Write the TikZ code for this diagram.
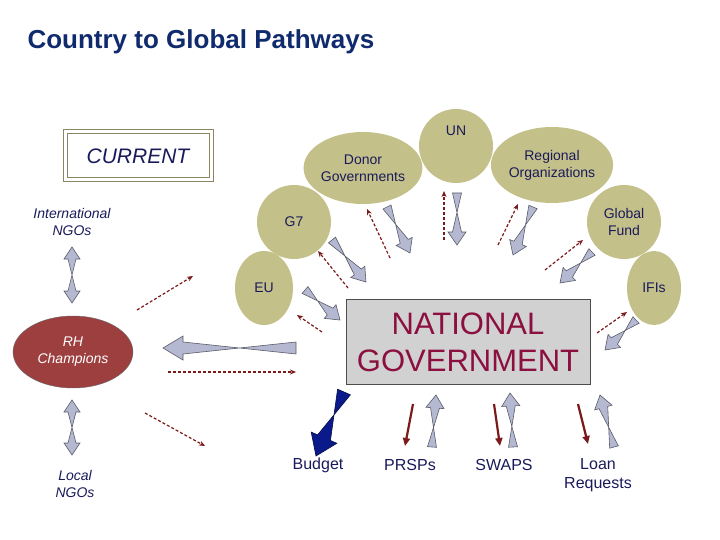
\documentclass[tikz,border=0pt]{standalone}
\usepackage{fontspec}
\setmainfont{Liberation Sans}
\usetikzlibrary{calc,arrows.meta,shapes.geometric}
\definecolor{olive}{HTML}{C4C08A}
\definecolor{txtblue}{HTML}{1A1A5A}
\definecolor{ttl}{HTML}{102A6E}
\definecolor{dred}{HTML}{7A1A1A}
\definecolor{ngtxt}{HTML}{8B1040}
\definecolor{ngfill}{HTML}{9E3F3F}
\definecolor{afill}{HTML}{B4B8D0}
\definecolor{navyA}{HTML}{0A1A8A}
\newcommand\fatarr[5]{% from, to, half width, head length, fill
 \filldraw[draw=#5!50!black,fill=#5,line width=0.6pt] let \p1=($(#2)!#4pt!(#1)$) in
 ($(#1)!#3pt!90:(#2)$) -- ($(\p1)!#3pt!-90:(#2)$) -- ($(\p1)!2*#3pt!-90:(#2)$) -- (#2)
 -- ($(\p1)!2*#3pt!90:(#2)$) -- ($(\p1)!#3pt!90:(#2)$) -- ($(#1)!#3pt!-90:(#2)$) -- cycle;}
\newcommand\fatdbl[4]{% double-headed
 \filldraw[draw=afill!50!black,fill=afill,line width=0.6pt] let \p1=($(#2)!#4pt!(#1)$), \p2=($(#1)!#4pt!(#2)$) in
 ($(\p2)!#3pt!90:(#2)$) -- ($(\p1)!#3pt!-90:(#2)$) -- ($(\p1)!2*#3pt!-90:(#2)$) -- (#2)
 -- ($(\p1)!2*#3pt!90:(#2)$) -- ($(\p1)!#3pt!90:(#2)$) -- ($(\p2)!#3pt!-90:(#2)$) -- ($(\p2)!2*#3pt!-90:(#2)$) -- (#1) -- ($(\p2)!2*#3pt!90:(#2)$) -- cycle;}
\tikzset{
 org/.style={ellipse,fill=olive,text=txtblue,align=center,font=\fontsize{14}{17}\selectfont,inner sep=0pt},
 dsh/.style={draw=dred,densely dashed,line width=1.2pt,-{Stealth[length=6pt,width=5pt]}},
 solidr/.style={draw=dred,line width=2.2pt,-{Triangle[length=8pt,width=7pt]}},
 lbl/.style={font=\fontsize{14}{17}\selectfont\itshape,text=txtblue,align=center},
 blbl/.style={font=\fontsize{16}{19}\selectfont,text=txtblue,align=center}
}
\begin{document}
\begin{tikzpicture}[x=1pt,y=-1pt]
\useasboundingbox (0,0) rectangle (720,540);
\node[anchor=west,font=\fontsize{26}{30}\selectfont\bfseries,text=ttl] (title) at (24,42) {Country to Global Pathways};
\draw[olive!70!black,line width=1pt] (63,130) rectangle (213,182);
\draw[olive!70!black,line width=1pt] (67,134) rectangle (209,178);
\node[font=\fontsize{21}{24}\selectfont\itshape,text=txtblue] (cur) at (138,156) {CURRENT};
\node[lbl] (ingo) at (72,222) {International\\NGOs};
\node[ellipse,fill=ngfill,minimum width=120,minimum height=72,inner sep=0pt,draw=black!60,text=white,font=\fontsize{14}{17}\selectfont\itshape,align=center] (rh) at (73,352) {RH\\Champions};
\node[lbl] (lngo) at (75,484) {Local\\NGOs};
\node[org,minimum width=112,minimum height=72] (donor) at (363,168) {Donor\\Governments};
\node[org,minimum width=74,minimum height=74] (un) at (456,146) {UN\\[14pt]};
\node[org,minimum width=118,minimum height=76] (reg) at (552,165) {Regional\\Organizations};
\node[org,minimum width=74,minimum height=74] (g7) at (294,222) {G7};
\node[org,minimum width=74,minimum height=74] (gf) at (624,222) {Global\\Fund};
\node[org,minimum width=58,minimum height=74] (eu) at (264,288) {EU};
\node[org,minimum width=54,minimum height=74] (ifi) at (654,288) {IFIs};
\node[draw=black!70,fill=black!18,minimum width=244,minimum height=85,text=ngtxt,align=center,font=\fontsize{31}{37}\selectfont] (ng) at (468,342) {NATIONAL\\GOVERNMENT};
\node[blbl] (bud) at (318,465) {Budget};
\node[blbl] (prsp) at (410,465) {PRSPs};
\node[blbl] (swap) at (504,465) {SWAPS};
\node[blbl] (loan) at (598,475) {Loan\\Requests};
% fat arrows
\coordinate (a1) at (387,207); \coordinate (b1) at (410,253); \fatarr{a1}{b1}{4.5}{13}{afill}
\coordinate (a2) at (457,193); \coordinate (b2) at (457,245); \fatarr{a2}{b2}{4.5}{13}{afill}
\coordinate (a3) at (533,207); \coordinate (b3) at (513,255); \fatarr{a3}{b3}{4.5}{13}{afill}
\coordinate (a4) at (332,240); \coordinate (b4) at (366,282); \fatarr{a4}{b4}{4.5}{13}{afill}
\coordinate (a5) at (592,252); \coordinate (b5) at (560,283); \fatarr{a5}{b5}{4.5}{13}{afill}
\coordinate (a6) at (305,290); \coordinate (b6) at (340,320); \fatarr{a6}{b6}{4.5}{13}{afill}
\coordinate (a7) at (636,320); \coordinate (b7) at (605,350); \fatarr{a7}{b7}{4.5}{13}{afill}
\coordinate (a8) at (296,348); \coordinate (b8) at (163,348); \fatarr{a8}{b8}{6}{20}{afill}
\coordinate (a9) at (432,447); \coordinate (b9) at (436,395); \fatarr{a9}{b9}{4.5}{13}{afill}
\coordinate (a10) at (513,447); \coordinate (b10) at (510,393); \fatarr{a10}{b10}{4.5}{13}{afill}
\coordinate (a11) at (614,447); \coordinate (b11) at (600,395); \fatarr{a11}{b11}{4.5}{13}{afill}
\coordinate (a12) at (344,392); \coordinate (b12) at (316,456); \fatarr{a12}{b12}{7}{20}{navyA}
\coordinate (d1) at (72,247); \coordinate (d2) at (72,303); \fatdbl{d1}{d2}{4}{12}
\coordinate (d3) at (72,400); \coordinate (d4) at (72,455); \fatdbl{d3}{d4}{4}{12}
% solid red
\coordinate (r1) at (413,404); \coordinate (s1) at (405,446); \draw[solidr] (r1) -- (s1);
\coordinate (r2) at (494,404); \coordinate (s2) at (500,446); \draw[solidr] (r2) -- (s2);
\coordinate (r3) at (578,404); \coordinate (s3) at (588,444); \draw[solidr] (r3) -- (s3);
% dashed
\coordinate (e1) at (390,258); \coordinate (f1) at (367,209); \draw[dsh] (e1) -- (f1);
\coordinate (e2) at (444,240); \coordinate (f2) at (444,191); \draw[dsh] (e2) -- (f2);
\coordinate (e3) at (498,245); \coordinate (f3) at (518,204); \draw[dsh] (e3) -- (f3);
\coordinate (e4) at (348,288); \coordinate (f4) at (318,251); \draw[dsh] (e4) -- (f4);
\coordinate (e5) at (545,270); \coordinate (f5) at (583,240); \draw[dsh] (e5) -- (f5);
\coordinate (e6) at (322,332); \coordinate (f6) at (297,315); \draw[dsh] (e6) -- (f6);
\coordinate (e7) at (597,333); \coordinate (f7) at (627,312); \draw[dsh] (e7) -- (f7);
\coordinate (e8) at (137,310); \coordinate (f8) at (193,276); \draw[dsh] (e8) -- (f8);
\coordinate (e9) at (168,372); \coordinate (f9) at (296,372); \draw[dsh] (e9) -- (f9);
\coordinate (e10) at (145,413); \coordinate (f10) at (205,446); \draw[dsh] (e10) -- (f10);
\end{tikzpicture}
\end{document}
